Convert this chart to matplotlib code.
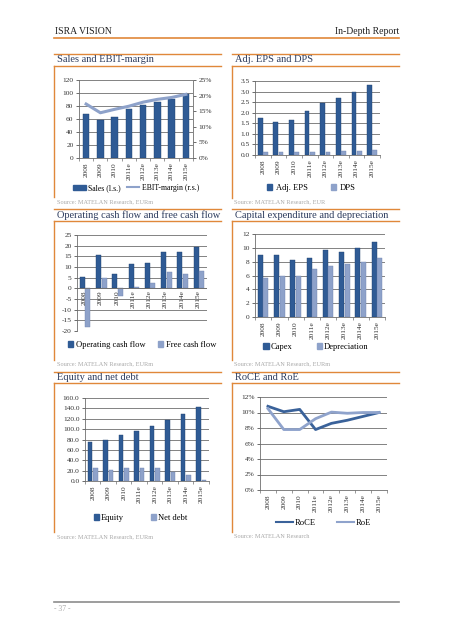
import matplotlib
matplotlib.use("Agg")
import matplotlib.pyplot as plt
from matplotlib.lines import Line2D
from matplotlib.patches import Patch
import numpy as np

plt.rcParams['font.family'] = ['Liberation Serif', 'DejaVu Serif']
plt.rcParams['axes.unicode_minus'] = False

years = ["2008", "2009", "2010", "2011e", "2012e", "2013e", "2014e", "2015e"]

sales = [68, 58, 63, 75, 82, 86, 91, 99]
ebit_margin = [17.3, 14.5, 15.6, 16.6, 17.9, 18.8, 19.4, 20.4]

adj_eps = [1.77, 1.54, 1.65, 2.07, 2.46, 2.68, 2.98, 3.30]
dps = [0.13, 0.12, 0.15, 0.15, 0.15, 0.20, 0.20, 0.25]

ocf = [5.1, 15.4, 6.6, 11.3, 12.1, 16.8, 16.8, 19.3]
fcf = [-18.1, 4.8, -3.4, 0.5, 2.4, 7.6, 6.6, 8.1]

capex = [9.0, 9.0, 8.3, 8.5, 9.7, 9.4, 10.0, 10.9]
depreciation = [5.6, 5.9, 6.0, 7.0, 7.35, 7.65, 7.9, 8.5]

equity = [75.5, 80, 89, 96.8, 106, 118, 129.7, 143]
net_debt = [25, 21, 25, 25, 25, 18, 11, 1]

roce = [10.8, 10.1, 10.4, 7.8, 8.6, 9.0, 9.5, 10.0]
roe = [10.5, 7.8, 7.8, 9.2, 10.05, 9.9, 10.0, 10.0]

W, H = 452, 640
fig = plt.figure(figsize=(W / 100, H / 100), dpi=100)

DARK = "#2F5B95"
LIGHT = "#8EA2CA"
ORANGE = "#E0883A"
GRID = "#6E6E6E"
TITLE_C = "#2B3A5C"
SRC_C = "#A8A8A8"
TXT = "#333333"
FS = 5.3


def ax_px(l, t, r, b):
    return fig.add_axes([l / W, 1 - b / H, (r - l) / W, (b - t) / H])


def hline(x0, x1, y, color=ORANGE, lw=1.0):
    fig.add_artist(Line2D([x0 / W, x1 / W], [1 - y / H, 1 - y / H], color=color, lw=lw))


def vline(x, y0, y1, color=ORANGE, lw=1.0):
    fig.add_artist(Line2D([x / W, x / W], [1 - y0 / H, 1 - y1 / H], color=color, lw=lw))


def txt(x, y, s, size=7.5, color=TITLE_C, ha="left"):
    fig.text(x / W, 1 - y / H, s, fontsize=size, color=color, ha=ha, va="center")


def panel(x0, x1, ytop, ybot_title, yvbottom, title):
    hline(x0, x1, ytop)
    hline(x0, x1, ybot_title)
    vline(x0, ybot_title, yvbottom)
    txt(x0 + 3, (ytop + ybot_title) / 2, title)


def style(ax, xlabels=True):
    for s in ["top", "right"]:
        ax.spines[s].set_visible(False)
    ax.spines["left"].set_color(GRID)
    ax.spines["bottom"].set_color(GRID)
    ax.spines["left"].set_linewidth(0.6)
    ax.spines["bottom"].set_linewidth(0.6)
    ax.yaxis.grid(True, color=GRID, lw=0.6)
    ax.set_axisbelow(True)
    ax.tick_params(axis="both", labelsize=FS, colors=TXT, length=2, width=0.5, pad=2)
    ax.set_xticks(np.arange(len(years)))
    ax.set_xticks(np.arange(len(years) + 1) - 0.5, minor=True)
    ax.tick_params(axis="x", which="major", length=0, pad=3)
    ax.tick_params(axis="x", which="minor", length=2, width=0.5, colors=GRID)
    if xlabels:
        ax.set_xticklabels(years, rotation=90)
    ax.set_xlim(-0.5, len(years) - 0.5)


# Header
txt(55, 32, "ISRA VISION", size=7, color="#222222")
txt(399, 32, "In-Depth Report", size=7, color="#222222", ha="right")
hline(54, 399, 38, lw=1.2)

# Footer
hline(54, 399, 602, color="#8C8C8C", lw=1.2)
txt(54, 609, "- 37 -", size=5.5, color=SRC_C)

x = np.arange(len(years))

# ---- Panel 1: Sales and EBIT-margin
panel(54, 221, 54, 66, 197, "Sales and EBIT-margin")
ax1 = ax_px(79, 80, 193, 158)
ax1.bar(x, sales, width=0.45, color=DARK, edgecolor="#1F3F6E", lw=0.3)
ax1.set_ylim(0, 120)
ax1.set_yticks(range(0, 121, 20))
style(ax1)
ax1b = ax1.twinx()
ax1b.plot(x, ebit_margin, color=LIGHT, lw=2.2)
ax1b.set_ylim(0, 25)
ax1b.set_yticks(range(0, 26, 5))
ax1b.set_yticklabels([f"{v}%" for v in range(0, 26, 5)])
ax1b.tick_params(axis="y", labelsize=FS, colors=TXT, length=2, width=0.5, pad=2)
for s in ["top", "left", "bottom"]:
    ax1b.spines[s].set_visible(False)
ax1b.spines["right"].set_color(GRID)
ax1b.spines["right"].set_linewidth(0.6)
ax1.legend(handles=[Patch(color=DARK, label="Sales (l.s.)"),
                    Line2D([], [], color=LIGHT, lw=1.5, label="EBIT-margin (r.s.)")],
           loc="center", bbox_to_anchor=(0.5, (158 - 188) / 78), ncol=2, frameon=False,
           fontsize=FS + 0.3, handlelength=1.6, handleheight=0.6, columnspacing=0.8,
           handletextpad=0.3)
txt(57, 202, "Source: MATELAN Research, EURm", size=4.5, color=SRC_C)

# ---- Panel 2: Adj. EPS and DPS
panel(232, 399, 54, 66, 198, "Adj. EPS and DPS")
ax2 = ax_px(255, 81, 380, 155)
bw = 0.3
ax2.bar(x - 0.17, adj_eps, width=bw, color=DARK, edgecolor="#1F3F6E", lw=0.3)
ax2.bar(x + 0.17, dps, width=bw, color=LIGHT, edgecolor="#6F84AE", lw=0.3)
ax2.set_ylim(0, 3.5)
ax2.set_yticks(np.arange(0, 3.51, 0.5))
ax2.set_yticklabels([f"{v:.1f}" for v in np.arange(0, 3.51, 0.5)])
style(ax2)
ax2.legend(handles=[Patch(color=DARK, label="Adj. EPS"), Patch(color=LIGHT, label="DPS")],
           loc="center", bbox_to_anchor=(0.45, (155 - 188) / 74), ncol=2, frameon=False,
           fontsize=FS + 0.8, handlelength=0.6, handleheight=0.6, columnspacing=2.8,
           handletextpad=0.4)
txt(234, 202, "Source: MATELAN Research, EUR", size=4.5, color=SRC_C)

# ---- Panel 3: Operating cash flow and free cash flow
panel(54, 221, 209, 221, 360, "Operating cash flow and free cash flow")
ax3 = ax_px(77, 235, 207, 331)
ax3.bar(x - 0.17, ocf, width=bw, color=DARK, edgecolor="#1F3F6E", lw=0.3)
ax3.bar(x + 0.17, fcf, width=bw, color=LIGHT, edgecolor="#6F84AE", lw=0.3)
ax3.set_ylim(-20, 25)
ax3.set_yticks(range(-20, 26, 5))
style(ax3, xlabels=False)
ax3.spines["bottom"].set_visible(False)
ax3.axhline(0, color=GRID, lw=0.6)
ax3.set_xticklabels([])
ax3.tick_params(axis="x", which="both", length=0)
for i, yl in enumerate(years):
    ax3.text(i - 0.05, -1.0, yl, rotation=90, ha="center", va="top", fontsize=FS, color=TXT)
ax3.legend(handles=[Patch(color=DARK, label="Operating cash flow"),
                    Patch(color=LIGHT, label="Free cash flow")],
           loc="center", bbox_to_anchor=(0.5, (331 - 345) / 96), ncol=2, frameon=False,
           fontsize=FS + 0.8, handlelength=0.6, handleheight=0.6, columnspacing=1.5,
           handletextpad=0.3)
txt(57, 364, "Source: MATELAN Research, EURm", size=4.5, color=SRC_C)

# ---- Panel 4: Capital expenditure and depreciation
panel(232, 399, 209, 221, 360, "Capital expenditure and depreciation")
ax4 = ax_px(255, 234, 385, 317)
ax4.bar(x - 0.17, capex, width=bw, color=DARK, edgecolor="#1F3F6E", lw=0.3)
ax4.bar(x + 0.17, depreciation, width=bw, color=LIGHT, edgecolor="#6F84AE", lw=0.3)
ax4.set_ylim(0, 12)
ax4.set_yticks(range(0, 13, 2))
style(ax4)
ax4.legend(handles=[Patch(color=DARK, label="Capex"), Patch(color=LIGHT, label="Depreciation")],
           loc="center", bbox_to_anchor=(0.47, (317 - 347) / 83), ncol=2, frameon=False,
           fontsize=FS + 0.8, handlelength=0.6, handleheight=0.6, columnspacing=3.0,
           handletextpad=0.2)
txt(234, 364, "Source: MATELAN Research, EURm", size=4.5, color=SRC_C)

# ---- Panel 5: Equity and net debt
panel(54, 221, 372, 383, 532, "Equity and net debt")
ax5 = ax_px(85, 398, 209, 481)
ax5.bar(x - 0.17, equity, width=bw, color=DARK, edgecolor="#1F3F6E", lw=0.3)
ax5.bar(x + 0.17, net_debt, width=bw, color=LIGHT, edgecolor="#6F84AE", lw=0.3)
ax5.set_ylim(0, 160)
ax5.set_yticks(range(0, 161, 20))
ax5.set_yticklabels([f"{v:.1f}" for v in range(0, 161, 20)])
style(ax5)
ax5.legend(handles=[Patch(color=DARK, label="Equity"), Patch(color=LIGHT, label="Net debt")],
           loc="center", bbox_to_anchor=(0.45, (481 - 518) / 83), ncol=2, frameon=False,
           fontsize=FS + 0.8, handlelength=0.6, handleheight=0.6, columnspacing=3.2,
           handletextpad=0.2)
txt(57, 537, "Source: MATELAN Research, EURm", size=4.5, color=SRC_C)

# ---- Panel 6: RoCE and RoE
panel(232, 399, 372, 383, 532, "RoCE and RoE")
ax6 = ax_px(260, 397, 387, 490)
ax6.plot(x, roce, color="#3A629A", lw=2.0)
ax6.plot(x, roe, color="#8FA3CC", lw=2.0)
ax6.set_ylim(0, 12)
ax6.set_yticks(range(0, 13, 2))
ax6.set_yticklabels([f"{v}%" for v in range(0, 13, 2)])
style(ax6)
ax6.legend(handles=[Line2D([], [], color="#3A629A", lw=1.5, label="RoCE"),
                    Line2D([], [], color="#8FA3CC", lw=1.5, label="RoE")],
           loc="center", bbox_to_anchor=(0.5, (490 - 523) / 93), ncol=2, frameon=False,
           fontsize=FS + 0.8, handlelength=2.0, columnspacing=2.5, handletextpad=0.2)
txt(234, 537, "Source: MATELAN Research", size=4.5, color=SRC_C)

fig.savefig("out.png", dpi=100, facecolor="white")
